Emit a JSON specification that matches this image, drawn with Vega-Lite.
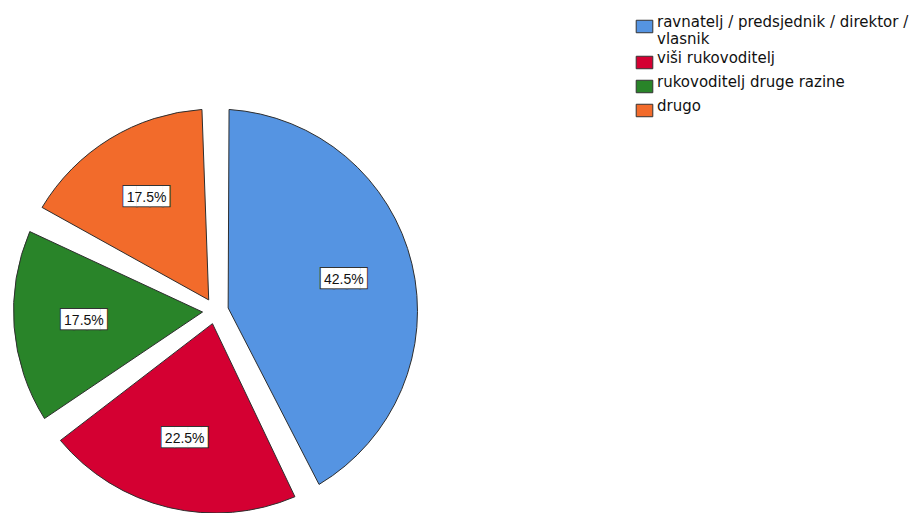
{
  "$schema": "https://vega.github.io/schema/vega-lite/v6.json",
  "width": 421,
  "height": 612,
  "padding": {"left": 5, "top": 5, "right": 5, "bottom": 0},
  "background": "white",
  "config": {"view": {"stroke": null}, "font": "Liberation Sans"},
  "data": {
    "values": [
      {"position": "ravnatelj / predsjednik / direktor / vlasnik", "share": 0.425, "rank": 1},
      {"position": "viši rukovoditelj", "share": 0.225, "rank": 2},
      {"position": "rukovoditelj druge razine", "share": 0.175, "rank": 3},
      {"position": "drugo", "share": 0.175, "rank": 4}
    ]
  },
  "encoding": {
    "theta": {"field": "share", "type": "quantitative", "stack": true},
    "order": {"field": "rank", "type": "quantitative", "sort": "ascending"}
  },
  "layer": [
    {
      "mark": {"type": "arc", "outerRadius": 202, "innerRadius": 13, "padAngle": 0.134, "stroke": "#2e2e2e", "strokeWidth": 1},
      "encoding": {
        "color": {
          "field": "position",
          "type": "nominal",
          "scale": {
            "domain": ["ravnatelj / predsjednik / direktor / vlasnik", "viši rukovoditelj", "rukovoditelj druge razine", "drugo"],
            "range": ["#5594E2", "#D40032", "#298429", "#F26B2B"]
          },
          "legend": {
            "title": null,
            "orient": "none",
            "legendX": 632,
            "legendY": 14,
            "padding": 0,
            "symbolType": "M-1.33,-1H1.33V1H-1.33Z",
            "symbolSize": 156,
            "symbolStrokeColor": "#333333",
            "symbolStrokeWidth": 1,
            "symbolOpacity": 1,
            "labelFont": "DejaVu Sans",
            "labelFontSize": 15,
            "labelBaseline": "alphabetic",
            "labelColor": "#111111",
            "labelLimit": 400,
            "labelOffset": 5,
            "rowPadding": 3,
            "labelExpr": "datum.label == 'ravnatelj / predsjednik / direktor / vlasnik' ? ['ravnatelj / predsjednik / direktor /', 'vlasnik'] : datum.label"
          }
        }
      }
    },
    {
      "mark": {"type": "text", "radius": 132, "text": "███▌", "font": "DejaVu Sans", "fontSize": 17, "fill": "#333333", "stroke": "#333333", "strokeWidth": 2, "dx": 3.2, "dy": -1},
      "encoding": {"detail": {"field": "position"}}
    },
    {
      "mark": {"type": "text", "radius": 132, "text": "███▌", "font": "DejaVu Sans", "fontSize": 17, "fill": "#ffffff", "dx": 3.2, "dy": -1},
      "encoding": {"detail": {"field": "position"}}
    },
    {
      "mark": {"type": "text", "radius": 132, "font": "Liberation Sans", "fontSize": 14, "fill": "#111111"},
      "encoding": {
        "detail": {"field": "position"},
        "text": {"field": "share", "type": "quantitative", "format": ".1%"}
      }
    }
  ]
}
